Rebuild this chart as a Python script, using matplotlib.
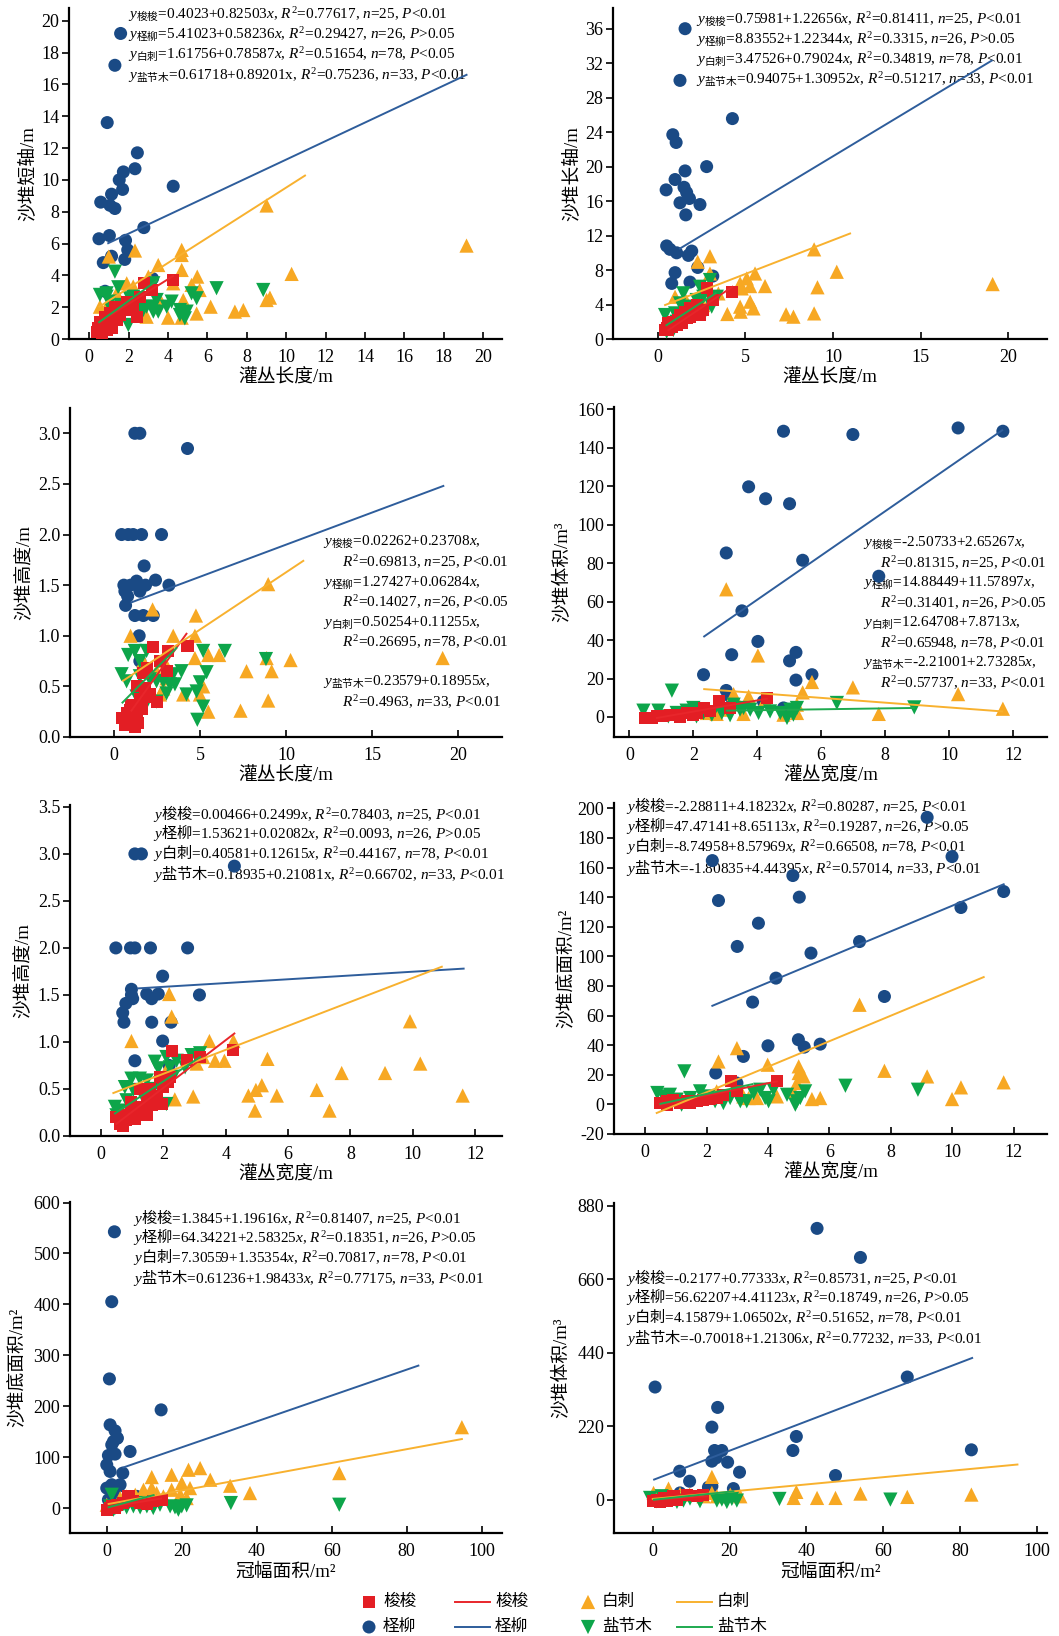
import numpy as np
import matplotlib
matplotlib.use('Agg')
import matplotlib.pyplot as plt

plt.rcParams['font.family'] = ['Liberation Serif', 'Noto Sans CJK SC']
plt.rcParams['axes.unicode_minus'] = False
plt.rcParams['mathtext.fontset'] = 'custom'
plt.rcParams['mathtext.rm'] = 'Liberation Serif'
plt.rcParams['mathtext.it'] = 'Liberation Serif:italic'
plt.rcParams['mathtext.sf'] = 'Noto Sans CJK SC'

species = ['梭梭', '柽柳', '白刺', '盐节木']

# ---- panel 1: 灌丛长度 vs 沙堆短轴 ----
p1_suosuo = [(4.26,3.71),(3.16,3.08),(2.79,3.5),(2.4,1.4),(1.8,1.82),(1.56,1.51),(1.3,2.03),(1.05,1.61),(0.8,1.4),(0.54,1.09),(0.46,0.67),(0.54,0.46),(0.88,0.57),(1.13,0.67),(0.71,0.88),(1.39,1.2),(1.9,2.35),(2.15,1.93),(0.96,1.2),(1.22,1.4),(0.37,0.46),(0.63,0.36),(1.64,1.82),(2.23,2.14),(2.57,2.66)]
p1_chengliu = [(1.59,19.2),(1.3,17.2),(0.91,13.6),(2.44,11.7),(2.32,10.7),(4.26,9.6),(1.73,10.5),(1.52,10.0),(1.13,9.1),(1.69,9.4),(0.58,8.6),(1.05,8.4),(1.3,8.2),(2.77,7.0),(0.49,6.3),(1.02,6.5),(1.84,6.2),(1.95,5.6),(1.13,5.2),(1.8,5.0),(0.71,4.8),(3.21,3.8),(0.8,3.0)]
p1_baici = [(19.15,5.87),(10.27,4.09),(9.0,8.39),(9.0,2.45),(9.17,2.6),(7.39,1.72),(7.82,1.82),(6.16,2.03),(5.48,3.92),(5.19,3.4),(5.45,1.6),(4.69,5.6),(4.69,5.28),(4.69,4.34),(4.77,2.45),(3.5,4.65),(3.0,3.92),(2.91,1.4),(4.0,1.34),(2.32,5.56),(0.99,5.18),(4.69,1.34),(2.23,3.3),(1.39,2.87),(0.54,2.03),(1.9,3.5),(2.57,2.24),(3.6,2.45),(4.26,3.5),(5.6,3.08),(1.05,2.45)]
p1_yanjiemu = [(1.3,4.23),(1.47,3.25),(0.54,2.77),(0.88,2.66),(6.46,3.19),(8.83,3.08),(3.25,3.5),(5.19,2.87),(5.45,2.56),(3.42,2.45),(3.93,2.03),(4.6,1.82),(4.94,1.72),(4.85,1.3),(3.17,2.03),(3.25,1.72),(2.74,1.82),(2.4,1.61),(1.98,0.88),(1.3,1.09),(1.56,2.14),(2.06,2.56),(2.23,2.66),(1.05,2.35),(1.13,1.82),(0.88,2.87),(2.91,2.03),(3.5,1.72),(4.18,2.35),(4.6,1.51)]
p1_fits = [((0.54,4.26),(1.09,3.96)), ((0.96,19.15),(6.02,16.6)), ((0.51,10.95),(2.03,10.27)), ((0.5,3.4),(1.06,3.65))]

# ---- panel 2: 灌丛长度 vs 沙堆长轴 ----
p2_suosuo = [(4.26,5.48),(2.79,5.87),(3.14,4.52),(2.41,2.78),(2.22,3.94),(1.84,3.55),(1.65,2.97),(1.46,2.59),(1.18,2.2),(0.89,2.0),(0.7,1.62),(0.51,1.24),(0.61,1.04),(1.08,1.62),(1.37,1.8),(2.03,3.17),(1.65,2.4),(0.8,1.43),(0.42,1.04),(1.27,2.78),(1.56,3.17),(2.6,3.36),(0.61,1.8),(2.22,2.97),(1.84,2.59)]
p2_chengliu = [(1.56,36.0),(1.27,30.0),(4.26,25.57),(0.86,23.7),(1.05,22.8),(2.79,20.0),(1.56,19.5),(0.99,18.5),(0.48,17.3),(1.5,17.6),(1.65,17.0),(1.81,16.3),(1.27,15.8),(2.41,15.6),(1.6,14.4),(0.51,10.8),(0.7,10.4),(1.08,10.0),(1.94,10.2),(1.75,9.7),(2.28,8.3),(0.99,7.7),(3.14,7.3),(0.8,6.45),(1.84,6.6)]
p2_baici = [(19.1,6.37),(10.21,7.8),(8.92,10.4),(9.11,6.0),(8.92,2.97),(7.32,2.86),(7.74,2.59),(6.12,6.14),(5.55,7.6),(5.27,6.14),(4.7,6.45),(4.79,5.87),(5.08,7.03),(5.27,4.33),(5.46,3.55),(4.7,3.75),(4.73,3.17),(3.97,2.9),(2.98,9.6),(2.28,8.96),(2.98,7.6),(0.99,4.9),(3.46,5.29),(2.6,3.94),(1.65,4.33),(2.22,3.36)]
p2_yanjiemu = [(1.46,5.3),(2.41,6.06),(2.98,6.84),(3.37,4.9),(3.08,3.75),(2.03,2.97),(1.65,2.59),(1.08,2.0),(0.7,1.43),(0.51,0.85),(0.89,1.04),(0.42,2.78),(1.27,4.13),(1.84,3.75),(2.22,4.52),(2.6,4.9),(1.65,3.36),(1.37,2.2),(0.99,2.97),(2.7,3.17)]
p2_fits = [((0.61,4.26),(1.04,6.06)), ((1.27,19.05),(10.5,32.3)), ((0.42,10.97),(3.94,12.24)), ((0.5,3.3),(1.6,5.3))]

# ---- panel 3: 灌丛长度 vs 沙堆高度 ----
p3_suosuo = [(4.26,0.9),(2.27,0.89),(3.14,0.85),(1.88,0.68),(1.69,0.63),(1.3,0.5),(1.78,0.48),(1.98,0.4),(2.46,0.35),(1.49,0.38),(1.1,0.27),(0.91,0.27),(0.72,0.24),(0.43,0.19),(0.62,0.12),(1.2,0.1),(0.91,0.17),(1.3,0.22),(1.59,0.28),(1.0,0.32),(2.07,0.42),(2.66,0.75),(3.04,0.65),(0.81,0.14),(1.4,0.14)]
p3_chengliu = [(1.2,3.0),(1.49,3.0),(4.26,2.85),(0.43,2.0),(0.81,2.0),(1.1,2.0),(1.59,2.0),(2.75,2.0),(1.74,1.69),(2.4,1.55),(3.18,1.5),(0.56,1.5),(0.95,1.5),(1.82,1.5),(1.49,1.44),(0.78,1.39),(0.66,1.3),(1.2,1.2),(1.69,1.2),(2.27,1.2),(1.45,1.0),(1.49,0.75),(1.3,1.54),(0.62,1.44)]
p3_baici = [(19.09,0.78),(10.25,0.76),(8.95,1.51),(8.86,0.78),(9.15,0.65),(8.95,0.36),(7.69,0.65),(7.34,0.26),(6.1,0.81),(5.47,0.81),(5.47,0.25),(4.75,1.2),(4.69,1.0),(4.69,0.78),(5.17,0.5),(4.98,0.42),(4.01,0.42),(3.43,1.0),(2.91,0.75),(2.23,1.26),(0.95,1.0),(2.85,0.48),(2.66,0.42),(1.69,0.75),(3.04,0.58),(2.46,0.65)]
p3_yanjiemu = [(6.43,0.85),(5.17,0.85),(8.82,0.77),(5.37,0.64),(4.98,0.54),(4.79,0.45),(5.17,0.3),(4.83,0.17),(3.91,0.65),(3.43,0.62),(3.24,0.52),(3.04,0.43),(2.46,0.35),(1.88,0.34),(1.2,0.19),(0.43,0.62),(0.81,0.81),(1.2,0.85),(1.88,0.85),(1.49,0.75),(1.49,0.6),(2.07,0.57),(2.46,0.55),(0.72,0.55),(1.3,0.4),(2.85,0.55),(3.53,0.52),(4.2,0.42)]
p3_fits = [((1.0,4.2),(0.26,1.02)), ((1.0,19.13),(1.33,2.48)), ((0.52,10.99),(0.556,1.74)), ((0.48,3.62),(0.34,0.88))]

# ---- panel 4: 灌丛宽度 vs 沙堆体积 ----
p4_suosuo = [(2.79,8.1),(2.32,4.7),(4.3,9.9),(1.48,1.2),(2.0,1.2),(1.79,2.1),(1.06,0.3),(0.49,-0.5),(0.7,-0.5),(0.86,0.3),(1.27,1.2),(1.59,-0.2),(2.1,2.1),(2.52,2.9),(3.15,4.7)]
p4_chengliu = [(4.82,148.6),(6.99,146.9),(10.28,150.3),(11.68,148.6),(3.73,119.7),(4.26,113.5),(5.01,110.9),(3.03,85.3),(5.42,81.5),(7.8,73.2),(3.52,55.2),(4.02,39.3),(3.2,32.4),(5.21,33.6),(5.01,29.2),(2.32,22.0),(5.71,22.0),(5.21,19.2),(3.03,13.8),(3.15,10.7),(4.19,8.1),(4.82,4.7)]
p4_baici = [(3.03,66.4),(4.02,32.0),(5.71,18.2),(5.42,12.8),(6.99,15.4),(10.28,11.9),(11.68,4.3),(7.8,1.6),(3.73,10.7),(3.26,11.9),(4.25,9.0),(5.24,6.4),(3.57,1.6),(4.82,1.2),(5.24,2.1),(2.94,3.8),(2.73,1.6),(2.42,2.1)]
p4_yanjiemu = [(1.33,13.7),(0.44,3.3),(0.91,3.3),(1.22,0.3),(1.48,2.1),(2.0,4.7),(2.32,2.1),(2.58,1.2),(2.89,2.1),(3.26,6.4),(3.46,3.8),(3.78,3.8),(4.04,2.1),(4.72,2.1),(4.93,-0.5),(5.13,1.2),(5.24,4.7),(6.49,7.3),(8.91,5.0),(1.79,3.3),(3.15,0.9),(3.57,4.7),(2.1,0.3),(5.03,3.8),(4.4,2.9)]
p4_fits = [((0.86,4.3),(-0.5,9.5)), ((2.34,11.66),(41.9,149.1)), ((2.34,11.66),(14.5,2.9)), ((3.05,8.89),(3.3,4.7))]

# ---- panel 5: 灌丛宽度 vs 沙堆高度 ----
p5_suosuo = [(4.25,0.91),(2.27,0.9),(2.77,0.81),(3.18,0.84),(1.25,0.5),(1.57,0.5),(0.98,0.36),(0.77,0.22),(0.72,0.11),(0.5,0.2),(1.09,0.18),(1.47,0.22),(1.63,0.33),(1.79,0.43),(2.0,0.52),(2.16,0.57),(1.89,0.63),(1.25,0.31),(0.98,0.27),(0.82,0.17),(0.61,0.13),(1.73,0.36),(1.47,0.41),(2.21,0.63),(1.95,0.34)]
p5_chengliu = [(1.09,3.0),(1.3,3.0),(4.28,2.87),(0.48,2.0),(0.95,2.0),(1.09,2.0),(1.59,2.0),(2.78,2.0),(1.98,1.7),(0.98,1.56),(0.98,1.5),(1.47,1.51),(1.63,1.46),(1.84,1.51),(3.16,1.5),(0.8,1.41),(0.7,1.31),(0.74,1.21),(1.63,1.21),(2.25,1.21),(1.98,1.01),(1.09,0.8),(2.19,0.75),(1.02,1.46)]
p5_baici = [(11.6,0.43),(9.91,1.22),(10.24,0.77),(9.11,0.67),(7.72,0.67),(7.33,0.27),(6.92,0.49),(5.64,0.43),(5.34,0.82),(5.16,0.54),(4.97,0.49),(4.94,0.27),(4.73,0.43),(4.25,1.01),(3.96,0.8),(3.66,0.8),(3.48,1.01),(2.96,0.42),(2.37,0.39),(2.27,1.27),(2.19,1.51),(0.98,1.01),(3.28,0.84),(3.07,0.77),(2.1,0.7)]
p5_yanjiemu = [(0.45,0.31),(0.5,0.22),(0.98,0.61),(1.25,0.61),(1.73,0.79),(1.84,0.72),(2.1,0.84),(2.43,0.8),(2.91,0.86),(3.18,0.88),(2.1,0.34),(1.89,0.56),(1.47,0.59),(1.04,0.49),(1.36,0.41),(0.82,0.38),(0.61,0.27),(1.68,0.5),(2.32,0.63),(2.7,0.73),(2.21,0.73),(0.77,0.52)]
p5_fits = [((0.5,4.28),(0.13,1.09)), ((1.2,11.63),(1.57,1.78)), ((0.4,10.93),(0.457,1.8)), ((0.45,3.18),(0.24,0.84))]

# ---- panel 6: 灌丛宽度 vs 沙堆底面积 ----
p6_suosuo = [(4.29,15.5),(2.8,15.5),(0.49,0.9),(0.71,2.1),(0.92,3.2),(1.14,0.9),(1.47,0.9),(1.68,2.1),(1.9,3.2),(2.12,3.6),(2.33,4.3),(2.55,6.5),(2.99,8.8),(1.36,2.1),(0.71,-0.2)]
p6_chengliu = [(9.18,193.9),(9.99,167.4),(2.19,164.7),(4.81,154.6),(2.39,137.7),(5.02,140.0),(11.67,143.8),(10.28,133.0),(3.69,122.4),(3.0,106.7),(5.4,102.2),(6.98,110.0),(4.26,85.3),(3.5,69.1),(7.79,72.9),(4.99,43.7),(5.18,38.7),(5.7,40.7),(4.0,39.6),(3.2,32.4),(2.3,21.2),(2.99,14.4)]
p6_baici = [(6.98,67.3),(2.99,38.0),(2.39,29.0),(3.99,26.8),(5.0,25.7),(5.0,21.2),(5.16,18.9),(7.79,22.7),(9.18,18.9),(10.28,11.5),(11.67,14.9),(9.99,3.6),(5.43,3.6),(5.7,4.3),(4.29,5.4),(4.83,8.8),(3.37,4.3),(3.64,4.3),(3.2,5.4),(2.33,8.8),(4.94,14.4)]
p6_yanjiemu = [(1.28,22.3),(0.4,7.7),(6.52,12.6),(8.88,9.9),(0.6,5.4),(0.81,6.5),(1.03,3.2),(1.19,-0.2),(1.47,4.3),(1.79,8.8),(2.06,5.4),(2.28,2.1),(2.55,0.9),(2.77,4.3),(2.99,6.5),(3.31,2.1),(3.53,7.7),(3.75,9.9),(3.91,4.3),(4.02,2.1),(4.62,6.5),(4.89,-0.2),(5.05,4.3),(5.21,8.8),(4.94,2.1),(3.1,2.1),(4.18,9.9)]
p6_fits = [((0.49,4.29),(-0.2,15.5)), ((2.19,11.67),(66.6,148.7)), ((0.38,11.02),(-5.8,86.0)), ((0.5,3.5),(0.4,13.7))]

# ---- panel 7: 冠幅面积 vs 沙堆底面积 ----
p7_suosuo = [(14.7,16.3),(5.8,22.9),(0.0,-3.3),(1.33,3.3),(2.67,6.5),(4.44,9.8),(7.1,13.1),(8.9,9.8),(10.7,7.8),(12.4,13.1),(2.2,0.0),(0.9,0.0)]
p7_chengliu = [(2.04,542.5),(1.33,405.2),(0.71,253.6),(14.5,192.8),(0.89,163.4),(2.22,151.6),(2.84,137.3),(1.33,124.2),(2.22,105.9),(0.44,103.3),(6.22,111.1),(0.0,85.0),(0.89,71.9),(4.27,68.6),(0.0,39.2),(3.11,42.5),(8.0,22.9),(1.78,26.1),(0.44,16.3),(2.67,137.3),(1.78,130.7),(3.56,45.8),(1.33,45.8)]
p7_baici = [(94.7,158.8),(62.0,68.6),(38.2,29.4),(32.9,43.8),(27.6,55.6),(24.9,78.4),(21.8,75.2),(17.3,65.4),(12.0,60.8),(20.0,49.0),(22.2,39.2),(17.3,35.9),(12.0,39.2),(9.8,35.9),(7.6,26.1),(5.3,22.9),(3.6,19.6),(15.1,22.9),(19.6,26.1),(21.3,19.6),(13.3,29.4),(8.4,16.3),(0.0,6.5),(10.7,19.6)]
p7_yanjiemu = [(62.0,6.5),(33.1,9.8),(1.33,26.1),(0.89,3.3),(2.2,0.0),(3.6,3.3),(5.3,1.3),(7.1,3.3),(8.9,1.3),(10.7,3.3),(12.4,0.0),(16.9,3.3),(18.2,1.3),(20.0,3.3),(21.3,5.2),(8.4,9.8),(4.4,7.8),(1.8,-3.3),(19.1,-3.3),(14.2,6.5)]
p7_fits = [((0.5,14.5),(2.0,18.7)), ((4.44,83.1),(79.7,279.7)), ((0.5,94.7),(8.0,135.5)), ((0.5,12.5),(1.6,25.4))]

# ---- panel 8: 冠幅面积 vs 沙堆体积 ----
p8_suosuo = [(0,-5),(1,0),(2.8,5),(5.4,10),(8.9,15),(11.5,10),(13.2,15),(6.3,0),(1.9,-7),(3.7,-3)]
p8_chengliu = [(42.8,812),(54.1,725),(0.6,337),(66.3,367),(16.9,276),(15.4,217),(37.4,189),(36.5,147),(83.0,149),(16.1,147),(18.0,147),(15.4,115),(19.5,112),(22.6,82),(7.0,85),(9.6,55),(47.6,72),(14.5,37),(21.0,33),(16.5,125),(7.1,20),(15.4,40),(4.5,10)]
p8_baici = [(15.4,68),(83.0,15),(66.3,8),(54.1,18),(47.6,5),(42.8,5),(37.4,23),(36.7,5),(4.1,33),(7.1,17),(9.6,15),(15.4,20),(16.7,10),(22.8,10),(0.2,20),(1.9,10),(20.2,15),(13.2,10)]
p8_yanjiemu = [(33.0,2),(61.9,0),(-0.7,5),(1.0,-5),(2.8,-3),(4.5,0),(6.3,-7),(8.0,-3),(9.7,3),(12.3,-5),(16.7,-3),(18.0,0),(19.3,-7),(20.6,2),(21.9,-3),(2.3,10),(5.4,5)]
p8_fits = [((0.2,14.1),(0,10)), ((0.35,83.2),(60,424)), ((0,95),(2,105)), ((0.3,21),(-0.3,24.8))]

# regression equations printed in each panel
p1_eq = [r'$y_{\mathsf{梭梭}}$=0.4023+0.82503$x$, $R^2$=0.77617, $n$=25, $P$<0.01',
         r'$y_{\mathsf{柽柳}}$=5.41023+0.58236$x$, $R^2$=0.29427, $n$=26, $P$>0.05',
         r'$y_{\mathsf{白刺}}$=1.61756+0.78587$x$, $R^2$=0.51654, $n$=78, $P$<0.05',
         r'$y_{\mathsf{盐节木}}$=0.61718+0.89201x, $R^2$=0.75236, $n$=33, $P$<0.01']
p2_eq = [r'$y_{\mathsf{梭梭}}$=0.75981+1.22656$x$, $R^2$=0.81411, $n$=25, $P$<0.01',
         r'$y_{\mathsf{柽柳}}$=8.83552+1.22344$x$, $R^2$=0.3315, $n$=26, $P$>0.05',
         r'$y_{\mathsf{白刺}}$=3.47526+0.79024$x$, $R^2$=0.34819, $n$=78, $P$<0.01',
         r'$y_{\mathsf{盐节木}}$=0.94075+1.30952$x$, $R^2$=0.51217, $n$=33, $P$<0.01']
p3_eq = [r'$y_{\mathsf{梭梭}}$=0.02262+0.23708$x$,', r'$R^2$=0.69813, $n$=25, $P$<0.01',
         r'$y_{\mathsf{柽柳}}$=1.27427+0.06284$x$,', r'$R^2$=0.14027, $n$=26, $P$<0.05',
         r'$y_{\mathsf{白刺}}$=0.50254+0.11255$x$,', r'$R^2$=0.26695, $n$=78, $P$<0.01',
         r'$y_{\mathsf{盐节木}}$=0.23579+0.18955$x$,', r'$R^2$=0.4963, $n$=33, $P$<0.01']
p4_eq = [r'$y_{\mathsf{梭梭}}$=-2.50733+2.65267$x$,', r'$R^2$=0.81315, $n$=25, $P$<0.01',
         r'$y_{\mathsf{柽柳}}$=14.88449+11.57897$x$,', r'$R^2$=0.31401, $n$=26, $P$>0.05',
         r'$y_{\mathsf{白刺}}$=12.64708+7.8713$x$,', r'$R^2$=0.65948, $n$=78, $P$<0.01',
         r'$y_{\mathsf{盐节木}}$=-2.21001+2.73285$x$,', r'$R^2$=0.57737, $n$=33, $P$<0.01']
p5_eq = [r'$y\mathsf{梭梭}$=0.00466+0.2499$x$, $R^2$=0.78403, $n$=25, $P$<0.01',
         r'$y\mathsf{柽柳}$=1.53621+0.02082$x$, $R^2$=0.0093, $n$=26, $P$>0.05',
         r'$y\mathsf{白刺}$=0.40581+0.12615$x$, $R^2$=0.44167, $n$=78, $P$<0.01',
         r'$y\mathsf{盐节木}$=0.18935+0.21081x, $R^2$=0.66702, $n$=33, $P$<0.01']
p6_eq = [r'$y\mathsf{梭梭}$=-2.28811+4.18232$x$, $R^2$=0.80287, $n$=25, $P$<0.01',
         r'$y\mathsf{柽柳}$=47.47141+8.65113$x$, $R^2$=0.19287, $n$=26, $P$>0.05',
         r'$y\mathsf{白刺}$=-8.74958+8.57969$x$, $R^2$=0.66508, $n$=78, $P$<0.01',
         r'$y\mathsf{盐节木}$=-1.80835+4.44395$x$, $R^2$=0.57014, $n$=33, $P$<0.01']
p7_eq = [r'$y\mathsf{梭梭}$=1.3845+1.19616$x$, $R^2$=0.81407, $n$=25, $P$<0.01',
         r'$y\mathsf{柽柳}$=64.34221+2.58325$x$, $R^2$=0.18351, $n$=26, $P$>0.05',
         r'$y\mathsf{白刺}$=7.30559+1.35354$x$, $R^2$=0.70817, $n$=78, $P$<0.01',
         r'$y\mathsf{盐节木}$=0.61236+1.98433$x$, $R^2$=0.77175, $n$=33, $P$<0.01']
p8_eq = [r'$y\mathsf{梭梭}$=-0.2177+0.77333$x$, $R^2$=0.85731, $n$=25, $P$<0.01',
         r'$y\mathsf{柽柳}$=56.62207+4.41123$x$, $R^2$=0.18749, $n$=26, $P$>0.05',
         r'$y\mathsf{白刺}$=4.15879+1.06502$x$, $R^2$=0.51652, $n$=78, $P$<0.01',
         r'$y\mathsf{盐节木}$=-0.70018+1.21306$x$, $R^2$=0.77232, $n$=33, $P$<0.01']

W, H = 1059, 1636
mk_colors = ['#e31e24', '#1a4a85', '#f7a823', '#0da54a']
ln_colors = ['#e8262b', '#2e5d9b', '#f8b12f', '#1eaa4f']
markers = ['s', 'o', '^', 'v']
sizes = [75, 88, 105, 105]
zorders = [5, 2, 3, 4]

fig = plt.figure(figsize=(W / 100, H / 100), dpi=100)
# overlay in pixel coordinates for equations and legend
lay = fig.add_axes([0, 0, 1, 1])
lay.set_xlim(0, W)
lay.set_ylim(H, 0)
lay.axis('off')


def panel(box, series, fits, xlim, ylim, xticks, yticks, xlabel, ylabel, ylab_x, yfmt=None):
    l, r, t, b = box
    ax = fig.add_axes([l / W, 1 - b / H, (r - l) / W, (b - t) / H])
    for i, pts in enumerate(series):
        xy = np.array(pts)
        ax.scatter(xy[:, 0], xy[:, 1], marker=markers[i], s=sizes[i], color=mk_colors[i],
                   edgecolors='none', zorder=zorders[i], clip_on=False)
    for i, (fx, fy) in enumerate(fits):
        ax.plot(fx, fy, color=ln_colors[i], lw=1.4, zorder=6)
    ax.set_xlim(*xlim)
    ax.set_ylim(*ylim)
    ax.set_xticks(xticks)
    ax.set_yticks(yticks)
    if yfmt:
        ax.set_yticklabels([yfmt % v for v in yticks])
    for s in ['top', 'right']:
        ax.spines[s].set_visible(False)
    for s in ['left', 'bottom']:
        ax.spines[s].set_linewidth(1.6)
    ax.tick_params(axis='x', direction='in', length=5, width=1.2, labelsize=13, pad=7)
    ax.tick_params(axis='y', direction='out', length=5, width=1.2, labelsize=13, pad=2)
    ax.set_xlabel(xlabel, fontsize=13.5)
    ax.set_ylabel(ylabel, fontsize=13.5)
    ax.xaxis.set_label_coords(0.5, -0.092)
    ax.yaxis.set_label_coords(ylab_x, 0.5)
    ax.patch.set_alpha(0)
    return ax


def equations(lines, x, ys, indent=None, fs=11):
    for k, (txt, y) in enumerate(zip(lines, ys)):
        xx = x if (indent is None or k % 2 == 0) else indent
        lay.text(xx, y, txt, fontsize=fs, ha='left', va='center', zorder=10)


panel((69, 502, 8, 339), [p1_suosuo, p1_chengliu, p1_baici, p1_yanjiemu], p1_fits,
      (-1.03, 20.95), (0, 20.8), range(0, 21, 2), range(0, 21, 2), '灌丛长度/m', '沙堆短轴/m', -0.076)
panel((613, 1047, 8, 339), [p2_suosuo, p2_chengliu, p2_baici, p2_yanjiemu], p2_fits,
      (-2.55, 22.2), (0, 38.4), range(0, 21, 5), range(0, 37, 4), '灌丛长度/m', '沙堆长轴/m', -0.076)
panel((70, 502, 408, 737), [p3_suosuo, p3_chengliu, p3_baici, p3_yanjiemu], p3_fits,
      (-2.57, 22.54), (0, 3.25), range(0, 21, 5), np.arange(0, 3.01, 0.5), '灌丛长度/m', '沙堆高度/m', -0.086, '%.1f')
panel((614, 1047, 407, 737), [p4_suosuo, p4_chengliu, p4_baici, p4_yanjiemu], p4_fits,
      (-0.48, 13.06), (-10.4, 161.2), range(0, 13, 2), range(0, 161, 20), '灌丛宽度/m', '沙堆体积/m³', -0.099)
panel((70, 502, 805, 1136), [p5_suosuo, p5_chengliu, p5_baici, p5_yanjiemu], p5_fits,
      (-0.99, 12.86), (0, 3.52), range(0, 13, 2), np.arange(0, 3.51, 0.5), '灌丛宽度/m', '沙堆高度/m', -0.090, '%.1f')
panel((614, 1047, 803, 1134), [p6_suosuo, p6_chengliu, p6_baici, p6_yanjiemu], p6_fits,
      (-1.01, 13.08), (-20, 203.6), range(0, 13, 2), range(-20, 201, 20), '灌丛宽度/m', '沙堆底面积/m²', -0.090)
panel((70, 502, 1202, 1533), [p7_suosuo, p7_chengliu, p7_baici, p7_yanjiemu], p7_fits,
      (-9.8, 105.4), (-49, 601), range(0, 101, 20), range(0, 601, 100), '冠幅面积/m²', '沙堆底面积/m²', -0.102)
panel((614, 1047, 1203, 1533), [p8_suosuo, p8_chengliu, p8_baici, p8_yanjiemu], p8_fits,
      (-10.1, 102.7), (-100, 888), range(0, 101, 20), range(0, 881, 220), '冠幅面积/m²', '沙堆体积/m³', -0.101)

equations(p1_eq, 128, [15, 35, 55, 76])
equations(p2_eq, 696, [20, 40, 60, 80])
equations(p3_eq, 323, [542, 562, 583, 602, 623, 642, 682, 702], indent=342)
equations(p4_eq, 863, [543, 563, 583, 603, 623, 643, 663, 683], indent=880)
equations(p5_eq, 153, [813, 833, 853, 873])
equations(p6_eq, 626, [806, 826, 846, 867])
equations(p7_eq, 133, [1217, 1237, 1257, 1277])
equations(p8_eq, 626, [1277, 1297, 1317, 1337])

# legend drawn by hand at the bottom
leg_rows = [1602, 1627]
for i in range(4):
    col, row = divmod(i, 2)
    y = leg_rows[row]
    mx = [369, 588][col]
    lay.scatter([mx], [y], marker=markers[i], s=sizes[i], color=mk_colors[i], edgecolors='none')
    lay.text(mx + 14, y, species[i], fontsize=12, va='center', ha='left')
    lx = [455, 677][col]
    lay.plot([lx, lx + 35], [y, y], color=ln_colors[i], lw=1.4)
    lay.text(lx + 40, y, species[i], fontsize=12, va='center', ha='left')

fig.savefig('out.png', dpi=100)
